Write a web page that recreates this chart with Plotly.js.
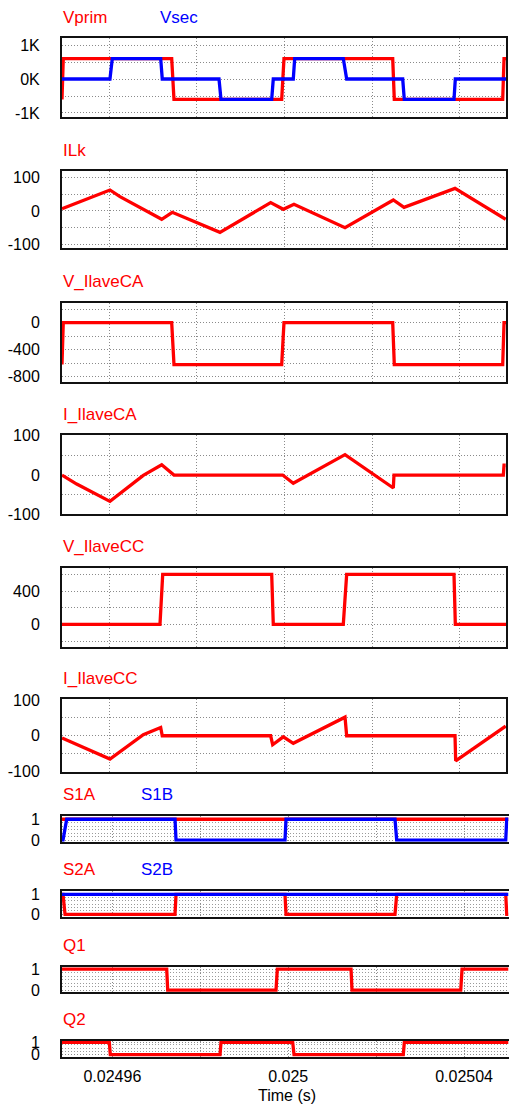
<!DOCTYPE html>
<html><head><meta charset="utf-8">
<script src="https://cdn.plot.ly/plotly-3.0.1.min.js"></script>
<style>html,body{margin:0;padding:0;background:#fff;overflow:hidden}</style>
</head><body><div id="chart" style="width:509px;height:1104px"></div>
<script>
// ---------------- data (time in seconds) ----------------
const vprimT = [0.02494923, 0.02494952, 0.02497425, 0.02497477, 0.02499934, 0.02499986, 0.02502466, 0.02502502, 0.02504975, 0.02505005, 0.0250505];
const vprimV = [-600, 600, 600, -600, -600, 600, 600, -600, -600, 600, 600];

const vsecT = [0.02494923, 0.02496017, 0.0249607, 0.02497174, 0.0249721, 0.02498504, 0.02498549, 0.02499706, 0.02499742, 0.02500198, 0.0250023, 0.02501339, 0.02501416, 0.02502694, 0.0250273, 0.02503864, 0.02503894, 0.0250505];
const vsecV = [0, 0, 600, 600, 0, 0, -600, -600, 0, 0, 600, 600, 0, 0, -600, -600, 0, 0];

const ilkT = [0.02494923, 0.02496017, 0.02496245, 0.02497197, 0.02497438, 0.02498526, 0.02499682, 0.0249997, 0.02500214, 0.02501378, 0.0250248, 0.02502724, 0.02503887, 0.02505043];
const ilkV = [7, 63, 43, -25, -4, -64, 25, 5, 20, -50, 33, 11, 68, -25];

const vCAT = [0.02494923, 0.02494952, 0.02497425, 0.02497477, 0.02499934, 0.02499986, 0.02502466, 0.02502502, 0.02504975, 0.02505005, 0.0250505];
const vCAV = [-620, 0, 0, -620, -620, 0, 0, -620, -620, 0, 0];

const iCAT = [0.02494923, 0.02495258, 0.02496017, 0.02496777, 0.02497197, 0.02497477, 0.02499956, 0.02500198, 0.02501378, 0.0250248, 0.02502495, 0.02504989, 0.02505005, 0.02505043];
const iCAV = [0, -23, -67, -1, 26, 0, 0, -21, 52, -33, 0, 0, 25, 25];

const vCCT = [0.02494923, 0.02497158, 0.0249722, 0.02499706, 0.02499742, 0.02501339, 0.02501416, 0.02503864, 0.02503894, 0.0250505];
const vCCV = [0, 0, 600, 600, 0, 0, 600, 600, 0, 0];

const iCCT = [0.02494923, 0.02496017, 0.02496777, 0.02497174, 0.0249721, 0.02499682, 0.02499728, 0.0249997, 0.02500198, 0.02501378, 0.02501416, 0.02503887, 0.02503902, 0.02505043];
const iCCV = [-6, -65, 3, 23, 0, 0, -25, -3, -21, 52, 0, 0, -70, 27];

const s1aT = [0.02494854, 0.02505012];
const s1aV = [1, 1];
const s1bT = [0.02494854, 0.02494877, 0.02494961, 0.02497425, 0.02497448, 0.02499927, 0.0249995, 0.02502429, 0.02502468, 0.02504948, 0.02504971, 0.02505012];
const s1bV = [0, 0, 1, 1, 0, 0, 1, 1, 0, 0, 1, 1];

const s2aT = [0.02494854, 0.02494877, 0.02494923, 0.02497425, 0.02497448, 0.02499927, 0.0249995, 0.02502429, 0.02502468, 0.02504948, 0.02504971, 0.02505012];
const s2aV = [1, 1, 0, 0, 1, 1, 0, 0, 1, 1, 0, 0];
const s2bT = [0.02494854, 0.02505012];
const s2bV = [1, 1];

const q1T = [0.02494854, 0.02497236, 0.02497259, 0.02499722, 0.02499752, 0.02501429, 0.02501451, 0.02503924, 0.02503954, 0.02505012];
const q1V = [1, 1, 0, 0, 1, 1, 0, 0, 1, 1];

const q2T = [0.02494854, 0.0249593, 0.02495953, 0.02498449, 0.02498471, 0.02500102, 0.02500132, 0.02502618, 0.02502641, 0.02505012];
const q2V = [1, 1, 0, 0, 1, 1, 0, 0, 1, 1];

const xTickVals = [0.02496, 0.02498, 0.025, 0.02502, 0.02504];
const xTickText = ['0.02496', '', '0.025', '', '0.02504'];

const titles = [['Vprim', 'Vsec'], ['ILk'], ['V_IlaveCA'], ['I_IlaveCA'], ['V_IlaveCC'], ['I_IlaveCC'], ['S1A', 'S1B'], ['S2A', 'S2B'], ['Q1'], ['Q2']];

// ---------------- layout helpers ----------------
const W = 509, H = 1104;
const RED = '#ff0000', BLUE = '#0000ff';
const FONT = 'Liberation Sans, Arial, sans-serif';
const upperRange = [0.02494923, 0.0250505];
const lowerRange = [0.02494854, 0.02505011];
const L = 62, RU = 506, RL = 508.5;

const panels = [
  {top: 38.3, bot: 116.7, range: [-1109, 1197], tv: [-1000, -500, 0, 500, 1000], tt: ['-1K', '', '0K', '', '1K'], lower: false},
  {top: 171, bot: 248.3, range: [-112, 120], tv: [-100, -50, 0, 50, 100], tt: ['-100', '', '0', '', '100'], lower: false},
  {top: 302.7, bot: 381.7, range: [-874, 296], tv: [-800, -600, -400, -200, 0, 200], tt: ['-800', '', '-400', '', '0', ''], lower: false},
  {top: 435, bot: 514.3, range: [-100, 102], tv: [-100, -50, 0, 50, 100], tt: ['-100', '', '0', '', '100'], lower: false},
  {top: 567.7, bot: 646.7, range: [-268, 680], tv: [-200, 0, 200, 400, 600], tt: ['', '0', '', '400', ''], lower: false},
  {top: 699.3, bot: 771.7, range: [-100.5, 102], tv: [-100, -50, 0, 50, 100], tt: ['-100', '', '0', '', '100'], lower: false},
  {top: 815.5, bot: 841.7, range: [-0.08, 1.18], tv: [0, 1], tt: ['0', '1'], lower: true, minor: 1/6},
  {top: 891, bot: 916.7, range: [-0.12, 1.165], tv: [0, 1], tt: ['0', '1'], lower: true, minor: 1/6},
  {top: 966.7, bot: 991.7, range: [-0.07, 1.12], tv: [0, 1], tt: ['0', '1'], lower: true, minor: 1/6},
  {top: 1040.7, bot: 1057.3, range: [-0.21, 1.13], tv: [0, 1], tt: ['0', '1'], lower: true, minor: 0.27}
];

const series = [
  [[vprimT, vprimV, RED], [vsecT, vsecV, BLUE]],
  [[ilkT, ilkV, RED]],
  [[vCAT, vCAV, RED]],
  [[iCAT, iCAV, RED]],
  [[vCCT, vCCV, RED]],
  [[iCCT, iCCV, RED]],
  [[s1aT, s1aV, RED], [s1bT, s1bV, BLUE]],
  [[s2aT, s2aV, RED], [s2bT, s2bV, BLUE]],
  [[q1T, q1V, RED]],
  [[q2T, q2V, RED]]
];

const GRID = '#8a8a8a';
const traces = [];
const layout = {
  width: W, height: H, margin: {l: 0, r: 0, t: 0, b: 0},
  paper_bgcolor: '#ffffff', plot_bgcolor: '#ffffff', showlegend: false,
  font: {family: FONT, size: 16, color: '#000'},
  annotations: []
};

panels.forEach((p, i) => {
  const n = i + 1;
  const xa = 'x' + (n === 1 ? '' : n), ya = 'y' + (n === 1 ? '' : n);
  const xk = 'xaxis' + (n === 1 ? '' : n), yk = 'yaxis' + (n === 1 ? '' : n);
  const right = p.lower ? RL : RU;
  const last = (n === panels.length);
  layout[xk] = {
    domain: [L / W, right / W], range: p.lower ? lowerRange : upperRange, anchor: ya,
    tickvals: xTickVals, ticktext: xTickText, showticklabels: last,
    ticks: last ? 'outside' : '', ticklen: 3, tickcolor: 'rgba(0,0,0,0)',
    showgrid: true, gridcolor: GRID, griddash: '1px,2px', gridwidth: 1,
    zeroline: false, showline: true, mirror: true, linecolor: '#111', linewidth: 2,
    tickfont: {family: FONT, size: 16, color: '#000'}
  };
  const ya_obj = {
    domain: [1 - p.bot / H, 1 - p.top / H], range: p.range, anchor: xa,
    tickvals: p.tv, ticktext: p.tt, ticks: 'outside', ticklen: 17, tickcolor: 'rgba(0,0,0,0)',
    showgrid: true, gridcolor: GRID, griddash: '1px,2px', gridwidth: 1,
    zeroline: false, showline: true, mirror: true, linecolor: '#111', linewidth: 2,
    tickfont: {family: FONT, size: 16, color: '#000'}
  };
  if (p.minor) {
    ya_obj.minor = {dtick: p.minor, tick0: 0, showgrid: true, gridcolor: '#9a9a9a', griddash: '1px,2px', gridwidth: 1, ticks: ''};
  }
  layout[yk] = ya_obj;

  series[i].forEach(s => {
    traces.push({
      x: s[0], y: s[1], xaxis: xa, yaxis: ya, type: 'scatter', mode: 'lines',
      line: {color: s[2], width: 3.3, shape: 'linear'}, hoverinfo: 'skip'
    });
  });

  const tx = [L, p.lower ? 140 : 159];
  titles[i].forEach((t, k) => {
    layout.annotations.push({
      text: t, xref: 'paper', yref: 'paper', x: tx[k] / W, y: 1 - (p.top - 21) / H,
      xanchor: 'left', yanchor: 'middle', showarrow: false, borderpad: 0,
      font: {family: FONT, size: 17, color: k === 0 ? RED : BLUE}
    });
  });
});

layout.annotations.push({
  text: 'Time (s)', xref: 'paper', yref: 'paper', x: 287 / W, y: 1 - 1095 / H,
  xanchor: 'center', yanchor: 'middle', showarrow: false, borderpad: 0,
  font: {family: FONT, size: 16, color: '#000'}
});

Plotly.newPlot('chart', traces, layout, {staticPlot: true, displayModeBar: false});
</script></body></html>
